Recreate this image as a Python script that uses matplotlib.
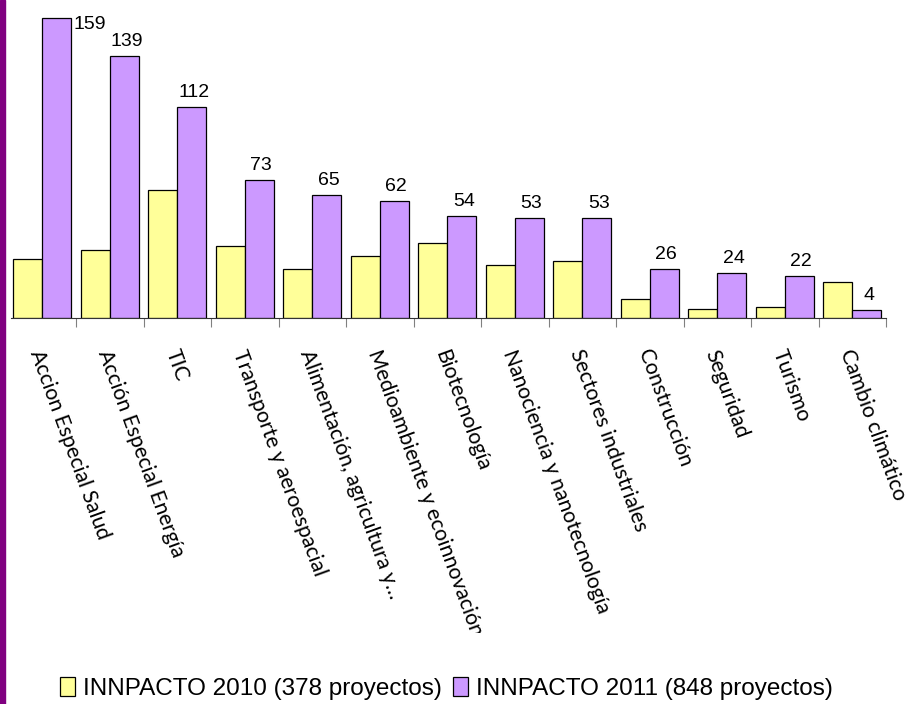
import matplotlib
matplotlib.use("Agg")
import matplotlib.pyplot as plt
from matplotlib.patches import Rectangle
from matplotlib.transforms import Bbox

# datos
categorias = ["Accion Especial Salud", "Acción Especial Energía", "TIC",
              "Transporte y aeroespacial", "Alimentación, agricultura y…",
              "Medioambiente y ecoinnovación", "Biotecnología",
              "Nanociencia y nanotecnología", "Sectores industriales",
              "Construcción", "Seguridad", "Turismo", "Cambio climático"]
innpacto_2010 = [31, 36, 68, 38, 26, 33, 40, 28, 30, 10, 5, 6, 19]
innpacto_2011 = [159, 139, 112, 73, 65, 62, 54, 53, 53, 26, 24, 22, 4]
leyenda = ["INNPACTO 2010 (378 proyectos)", "INNPACTO 2011 (848 proyectos)"]

W, H = 911, 704
fig = plt.figure(figsize=(W / 100, H / 100), dpi=100)
ax = fig.add_axes([8.5 / W, (H - 318) / H, 877.5 / W, 302 / H])

x = list(range(len(categorias)))
ancho = 0.43
b1 = ax.bar([i - ancho / 2 for i in x], innpacto_2010, width=ancho,
            color="#FFFF99", edgecolor="black", linewidth=0.9, label=leyenda[0])
b2 = ax.bar([i + ancho / 2 for i in x], innpacto_2011, width=ancho,
            color="#CC99FF", edgecolor="black", linewidth=0.9, label=leyenda[1])

ax.set_xlim(-0.5, 12.5)
ax.set_ylim(0, 160)
for s in ["left", "right", "top"]:
    ax.spines[s].set_visible(False)
ax.spines["bottom"].set_bounds(-0.46, 12.5)
ax.spines["bottom"].set_color("#333333")
ax.set_yticks([])
ax.set_xticks([i + 0.5 for i in x])
ax.set_xticklabels([])
ax.tick_params(axis="x", direction="out", length=6.5, width=0.8, color="#808080")

# etiquetas de valor
for i, v in enumerate(innpacto_2011):
    xc = i + ancho / 2
    if i == 0:
        ax.annotate(str(v), (xc + ancho / 2, v), xytext=(2, 2),
                    textcoords="offset pixels", ha="left", va="top",
                    fontsize=14, family="Liberation Sans", annotation_clip=False)
    else:
        ax.annotate(str(v), (xc, v), xytext=(2, 10),
                    textcoords="offset pixels", ha="center", va="baseline",
                    fontsize=14, family="Liberation Sans", annotation_clip=False)

# etiquetas de categoria
clip = Bbox.from_extents(0, H - 633, W, H)
for i, c in enumerate(categorias):
    t = ax.annotate(c, (i, 0), xytext=(3, -29), textcoords="offset pixels",
                    ha="left", va="top", rotation=-70, rotation_mode="anchor",
                    fontsize=15.2, family="Lato", annotation_clip=False)
    t.set_clip_box(clip)
    t.set_clip_on(True)

fig.legend(handles=[b1, b2], labels=leyenda, loc="lower left",
           bbox_to_anchor=(60 / W, 4 / H), ncol=2, frameon=False,
           handlelength=0.62, handleheight=0.78, handletextpad=0.33,
           columnspacing=0.45, borderpad=0, borderaxespad=0,
           prop={"family": "Liberation Sans", "size": 17.5})

# borde morado a la izquierda
fig.add_artist(Rectangle((0, 0), 5 / W, 1, transform=fig.transFigure,
                         color="#800080", zorder=10))

fig.savefig("out.png", dpi=100)
